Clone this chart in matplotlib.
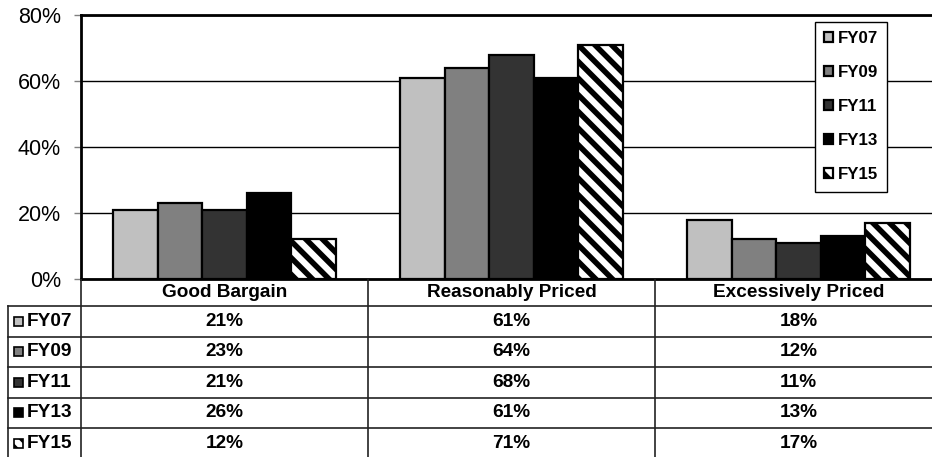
import numpy as np
import matplotlib.pyplot as plt
from matplotlib.patches import Rectangle

plt.rcParams['font.family'] = ['Liberation Sans', 'DejaVu Sans']
plt.rcParams['hatch.linewidth'] = 4

categories = ['Good Bargain', 'Reasonably Priced', 'Excessively Priced']
series = ['FY07', 'FY09', 'FY11', 'FY13', 'FY15']
fy07 = [21, 61, 18]
fy09 = [23, 64, 12]
fy11 = [21, 68, 11]
fy13 = [26, 61, 13]
fy15 = [12, 71, 17]
values = [fy07, fy09, fy11, fy13, fy15]
yticks = [0, 20, 40, 60, 80]

colors = ['#c0c0c0', '#808080', '#333333', '#000000', 'white']
hatches = [None, None, None, None, '\\\\']

W, H = 932, 457
fig = plt.figure(figsize=(W / 100, H / 100), dpi=100)

# main bar axes (right edge runs a little past the picture, as in the source)
ax = fig.add_axes([81 / W, (H - 279) / H, (942 - 81) / W, (279 - 15) / H])
x = np.arange(len(categories))
bw = 0.155
for j, (name, vals) in enumerate(zip(series, values)):
    ax.bar(x + (j - 2) * bw, vals, bw, color=colors[j], edgecolor='black',
           linewidth=1.6, hatch=hatches[j], label=name, zorder=3)

ax.set_xlim(-0.5, 2.5)
ax.set_ylim(0, 80)
ax.set_yticks(yticks)
ax.set_yticklabels([f'{t}%' for t in yticks], fontsize=15.5)
ax.set_xticks([])
ax.yaxis.grid(True, color='black', linewidth=1, zorder=0)
ax.tick_params(axis='y', length=5, width=1, color='#808080', pad=9.5)
for s in ['left', 'top', 'bottom']:
    ax.spines[s].set_linewidth(2)
ax.spines['right'].set_visible(False)

leg = ax.legend(loc='upper left', bbox_to_anchor=(815 / W, 1 - 22 / H),
                bbox_transform=fig.transFigure, borderaxespad=0,
                fancybox=False, framealpha=1, edgecolor='black',
                handlelength=0.5, handleheight=0.5, handletextpad=0.3,
                labelspacing=1.12, borderpad=0.55,
                prop={'weight': 'bold', 'size': 12.2})
leg.get_frame().set_linewidth(1)

# data table below the bars, in pixel units
tab = fig.add_axes([0, (H - 458.5) / H, 942 / W, (458.5 - 279) / H])
tab.set_xlim(0, 942)
tab.set_ylim(458.5, 279)
tab.axis('off')

row_top = 306
row_h = 30.5
lc = '#222222'
col_edges = [81, 368, 655]
for xe in col_edges:
    tab.plot([xe, xe], [279, 458.5], color=lc, lw=1.2)
tab.plot([8, 8], [row_top, 458.5], color=lc, lw=1.2)
for k in range(len(series)):
    yy = row_top + k * row_h
    tab.plot([8, 942], [yy, yy], color=lc, lw=1.2)

centers = [ax.transData.transform((i, 0))[0] for i in x]
for c, cat in zip(centers, categories):
    tab.text(c, 292.5, cat, ha='center', va='center', fontsize=13.7, fontweight='bold')

for k, (name, vals) in enumerate(zip(series, values)):
    yc = row_top + (k + 0.5) * row_h
    tab.add_patch(Rectangle((14, yc - 4.5), 9, 9, facecolor=colors[k], edgecolor='black',
                            lw=1.2, hatch=hatches[k]))
    tab.text(27, yc, name, ha='left', va='center', fontsize=13.7, fontweight='bold')
    for c, v in zip(centers, vals):
        tab.text(c, yc, f'{v}%', ha='center', va='center', fontsize=13.7, fontweight='bold')

fig.savefig('out.png', dpi=100)
